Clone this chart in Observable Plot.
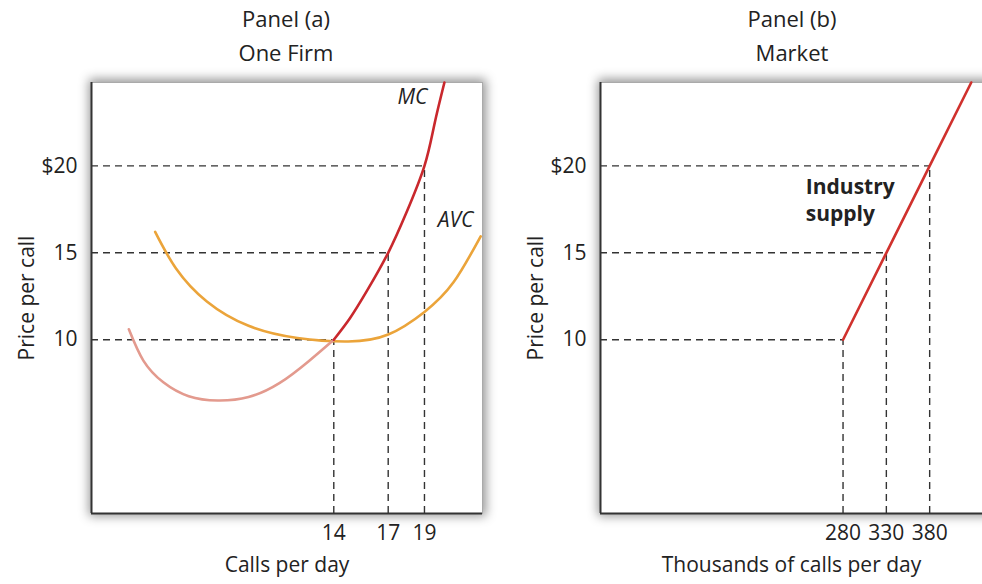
<!DOCTYPE html>
<html><head><meta charset="utf-8">
<script src="https://cdn.jsdelivr.net/npm/d3@7"></script>
<script src="https://cdn.jsdelivr.net/npm/@observablehq/plot@0.6"></script>
<style>
body{margin:0;background:#fff;}
#wrap{position:relative;width:982px;height:584px;overflow:hidden;background:#fff;font-family:"Open Sans",sans-serif;color:#222;}
.shadow{position:absolute;background:#fff;box-shadow:1px 0px 10px 3px rgba(0,0,0,0.42);}
.title{position:absolute;font-size:22px;text-align:center;width:300px;line-height:26px;}
.panel{position:absolute;top:0;}
</style></head><body>
<div id="wrap">
  <div class="shadow" style="left:91px;top:82px;width:391px;height:431px"></div>
  <div class="shadow" style="left:600px;top:82px;width:420px;height:431px"></div>
  <div class="title" style="left:136px;top:5px">Panel (a)</div>
  <div class="title" style="left:136px;top:39px">One Firm</div>
  <div class="title" style="left:642px;top:5px">Panel (b)</div>
  <div class="title" style="left:642px;top:39px">Market</div>
  <div class="panel" id="pa" style="left:0px"></div>
  <div class="panel" id="pb" style="left:491px"></div>
</div>
<script>
// Price axis
const priceTicks = [10, 15, 20];
const priceTickLabels = ["10", "15", "$20"];

// Panel (a): one firm
const firmQ = [14, 17, 19];
const firmP = [10, 15, 20];
const mcLowQ = [2.7, 3.5, 4.6, 6.0, 7.6, 9.3, 11.0, 12.6, 14];
const mcLowP = [10.6, 8.8, 7.55, 6.75, 6.5, 6.7, 7.5, 8.75, 10];
const mcHighQ = [14, 14.9, 15.85, 17, 18, 19, 19.55, 20.1];
const mcHighP = [10, 11.25, 12.85, 15, 17.3, 20, 22.4, 24.8];
const avcQ = [4.15, 5.3, 7.0, 9.3, 12.0, 14.8, 17, 19, 20.6, 22.1];
const avcP = [16.2, 14.1, 12.2, 10.8, 10.1, 9.9, 10.3, 11.6, 13.3, 15.95];
const firmLabels = ["MC", "AVC"];
const firmLabelQ = [18.34, 20.71];
const firmLabelP = [23.93, 16.86];

// Panel (b): market
const marketQ = [280, 330, 380];
const marketP = [10, 15, 20];
const supplyQ = [280, 330, 380, 428];
const supplyP = [10, 15, 20, 24.8];
const marketLabel = "Industry\nsupply";
const marketLabelQ = 237;
const marketLabelP = 18.1;

const pts = (xs, ys) => xs.map((x, i) => ({x, y: ys[i]}));
const font = '"Open Sans", sans-serif';
const dash = {stroke: "#333", strokeWidth: 1.4, strokeDasharray: "7,5"};
const yMax = 24.8;

const yOpts = {domain: [0, yMax], ticks: priceTicks, tickFormat: (d) => priceTickLabels[priceTicks.indexOf(d)],
  tickSize: 0, tickPadding: 14, label: "Price per call", labelAnchor: "center", labelArrow: "none", labelOffset: 72, fontSize: 22};

// Panel (a)
const xa0 = 0.64, xa1 = 22.2;
const guidesA = pts(firmQ, firmP);
const pa = Plot.plot({
  width: 500, height: 584,
  marginLeft: 91, marginRight: 18, marginTop: 82, marginBottom: 71,
  style: {fontFamily: font, fontSize: "21px", color: "#222", background: "transparent", overflow: "visible"},
  x: {domain: [xa0, xa1], ticks: firmQ, tickSize: 0, tickPadding: 12, label: "Calls per day", labelAnchor: "center", labelArrow: "none", labelOffset: 58},
  y: yOpts,
  marks: [
    Plot.frame({stroke: "#aaa"}),
    Plot.ruleY(guidesA, {y: "y", x1: xa0, x2: "x", ...dash}),
    Plot.ruleX(guidesA, {x: "x", y1: 0, y2: "y", ...dash}),
    Plot.line(pts(avcQ, avcP), {x: "x", y: "y", stroke: "#eba43a", strokeWidth: 2.6, curve: "natural"}),
    Plot.line(pts(mcLowQ, mcLowP), {x: "x", y: "y", stroke: "#e39a8e", strokeWidth: 2.6, curve: "natural"}),
    Plot.line(pts(mcHighQ, mcHighP), {x: "x", y: "y", stroke: "#c9282d", strokeWidth: 2.6, curve: "natural"}),
    Plot.ruleX([xa0], {stroke: "#333", strokeWidth: 2}),
    Plot.ruleY([0], {stroke: "#333", strokeWidth: 2}),
    Plot.text(firmLabels, {x: (d, i) => firmLabelQ[i], y: (d, i) => firmLabelP[i], text: d => d, fontStyle: "italic", fontSize: 21, fill: "#222"})
  ]
});
document.getElementById("pa").append(pa);

// Panel (b)
const xb1 = 441;
const guidesB = pts(marketQ, marketP);
const pb = Plot.plot({
  width: 491, height: 584,
  marginLeft: 109, marginRight: 0, marginTop: 82, marginBottom: 71,
  style: {fontFamily: font, fontSize: "21px", color: "#222", background: "transparent", overflow: "visible"},
  x: {domain: [0, xb1], ticks: marketQ, tickSize: 0, tickPadding: 12, label: "Thousands of calls per day", labelAnchor: "center", labelArrow: "none", labelOffset: 58},
  y: yOpts,
  marks: [
    Plot.ruleY([yMax], {stroke: "#aaa"}),
    Plot.ruleY(guidesB, {y: "y", x1: 0, x2: "x", ...dash}),
    Plot.ruleX(guidesB, {x: "x", y1: 0, y2: "y", ...dash}),
    Plot.line(pts(supplyQ, supplyP), {x: "x", y: "y", stroke: "#d0312d", strokeWidth: 2.6}),
    Plot.ruleX([0], {stroke: "#333", strokeWidth: 2}),
    Plot.ruleY([0], {stroke: "#333", strokeWidth: 2}),
    Plot.text([marketLabel], {x: marketLabelQ, y: marketLabelP, text: d => d, textAnchor: "start", fontWeight: "bold", fontSize: 21, lineHeight: 1.3, fill: "#222"})
  ]
});
document.getElementById("pb").append(pb);
</script>
</body></html>
